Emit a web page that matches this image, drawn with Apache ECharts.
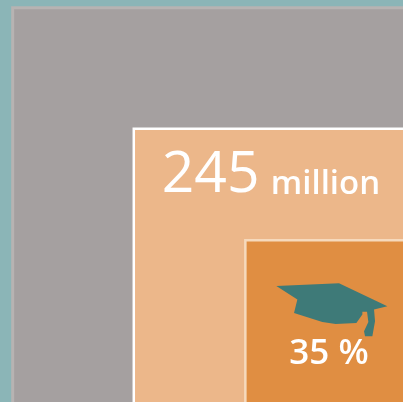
<!DOCTYPE html>
<html><head><meta charset="utf-8">
<style>html,body{margin:0;padding:0;background:#8BB5B7}#c{width:403px;height:402px}</style>
<script src="https://cdn.jsdelivr.net/npm/echarts@6/dist/echarts.min.js"></script>
</head><body><div id="c"></div>
<script>
const categories = ['Total', 'Group', 'Share'];
const millions = [515, 245, 84];
const bigNumber = '245';
const unit = 'million';
const share = '35 %';
const fills = ['#A5A0A0', '#ECB78A', '#E08E42'];
const strokes = ['#B7B3B2', '#FFFFFF', '#F6D9BC'];
const capPath = 'M112 155 L300 147 L445 215 L405 225 L408 260 L400 305 L378 305 L375 290 L388 262 L384 232 L370 232 L370 240 L352 265 L290 268 L250 262 L165 235 L175 195 Z';
const chart = echarts.init(document.getElementById('c'), null, {renderer:'canvas'});
const sides = millions.map(Math.sqrt);
chart.setOption({
  animation:false,
  backgroundColor:'#8BB5B7',
  grid:{left:0,right:0,top:0,bottom:4,containLabel:false},
  xAxis:{type:'value',inverse:true,min:0,max:403/17.2,show:false},
  yAxis:{type:'value',min:0,max:398/17.2,show:false},
  series:[{
    type:'custom',
    coordinateSystem:'cartesian2d',
    clip:false,
    silent:true,
    data:sides.map((s,i)=>({name:categories[i],value:[s,s,i]})),
    encode:{x:0,y:1},
    renderItem(params,api){
      const s=api.value(0), i=api.value(2);
      const corner=api.coord([s,s]), origin=api.coord([0,0]);
      const x=corner[0], y=corner[1];
      const children=[{
        type:'rect',
        shape:{x:x,y:y,width:origin[0]-x+8,height:origin[1]-y+12},
        style:{fill:fills[i],stroke:strokes[i],lineWidth:i===0?3:2.5}
      }];
      if(i===1){
        children.push({type:'text',style:{x:x+28,y:y+47,text:bigNumber,fill:'#fff',font:'400 57px "Open Sans"',textAlign:'left',textVerticalAlign:'middle'}});
        children.push({type:'text',style:{x:x+137,y:y+56,text:unit,fill:'#fff',font:'600 33px "Open Sans"',textAlign:'left',textVerticalAlign:'middle'}});
      }
      if(i===2){
        children.push({type:'path',
          shape:{pathData:capPath,layout:'cover',x:x+31,y:y+43,width:111,height:53},
          style:{fill:'#3E7A78'}});
        children.push({type:'text',style:{x:x+44,y:y+114,text:share,fill:'#fff',font:'600 35px "Open Sans"',textAlign:'left',textVerticalAlign:'middle'}});
      }
      return {type:'group',children};
    }
  }]
});
</script></body></html>
